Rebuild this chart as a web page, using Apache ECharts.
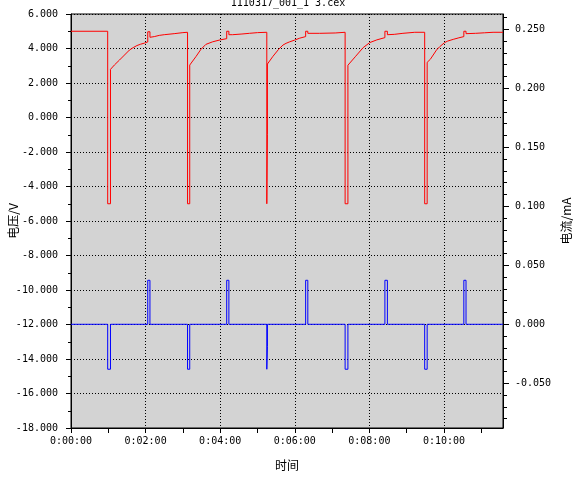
<!DOCTYPE html>
<html>
<head>
<meta charset="utf-8">
<script src="https://cdn.jsdelivr.net/npm/echarts@6/dist/echarts.min.js"></script>
<style>html,body{margin:0;padding:0;background:#fff}#c{width:576px;height:480px}</style>
</head>
<body>
<div id="c"></div>
<script>
// ---- data (time in seconds) ----
const titleText = '1110317_001_1 3.cex';
const voltTime = [0,59,59,63.5,63.5,70,78,86,94,100,106,112,118,123.5,
  123.5,127,127,134,142,150,166,180,187.5,
  187.5,191,191,201,209,217,228,240,250.5,
  250.5,254,254,260,275,287,300,315,
  315,316,316,325,334,341,346,352,360,368,377.5,
  377.5,381,381,400,425,441,
  441,445.5,445.5,458,470,480.5,492,505,
  505,509,509,520,534,553,569,
  569,573,573,578,588,593,601,606,615,624,632,
  632,635.5,635.5,651,665,679,695];
const voltValue = [5.00,5.00,-5.00,-5.00,2.79,3.05,3.33,3.62,3.91,4.05,4.17,4.25,4.31,4.38,
  4.97,4.97,4.65,4.69,4.76,4.80,4.86,4.92,4.94,
  -5.00,-5.00,3.04,3.53,3.95,4.24,4.39,4.50,4.57,
  5.00,5.00,4.80,4.80,4.84,4.88,4.92,4.94,
  -5.00,-1.00,3.10,3.55,3.95,4.20,4.30,4.39,4.49,4.60,4.69,
  5.00,5.00,4.88,4.88,4.90,4.94,
  -5.00,-5.00,3.03,3.55,4.05,4.34,4.50,4.63,
  5.00,5.00,4.80,4.82,4.88,4.94,4.94,
  -5.00,-5.00,3.20,3.37,3.91,4.10,4.34,4.43,4.53,4.62,4.69,
  5.00,5.00,4.86,4.88,4.91,4.94,4.94];
const currTime = [0,59,59,63.5,63.5,
  123.5,123.5,127,127,
  187.5,187.5,191,191,
  250.5,250.5,254,254,
  315,315,316,316,
  377.5,377.5,381,381,
  441,441,445.5,445.5,
  505,505,509,509,
  569,569,573,573,
  632,632,635.5,635.5,
  695];
const currValue = [0,0,-0.0381,-0.0381,0,
  0,0.0373,0.0373,0,
  0,-0.0381,-0.0381,0,
  0,0.0373,0.0373,0,
  0,-0.0381,-0.019,0,
  0,0.0373,0.0373,0,
  0,-0.0381,-0.0381,0,
  0,0.0373,0.0373,0,
  0,-0.0381,-0.0381,0,
  0,0.0373,0.0373,0,
  0];
const xLabelValues = [0,120,240,360,480,600];
const xTickValues = [0,60,120,180,240,300,360,420,480,540,600,660];
const rightLabelValues = [-0.05,0,0.05,0.10,0.15,0.20,0.25];
const rightMinorValues = [-0.08,-0.07,-0.06,-0.04,-0.03,-0.02,-0.01,0.01,0.02,0.03,0.04,0.06,0.07,0.08,0.09,0.11,0.12,0.13,0.14,0.16,0.17,0.18,0.19,0.21,0.22,0.23,0.24,0.26];

const voltData = voltTime.map((t,i)=>[t, voltValue[i]]);
const currData = currTime.map((t,i)=>[t, currValue[i]]);

const numFont = 'DejaVu Sans Mono';
const cjkFont = '"Noto Sans CJK SC"';
const black = '#000';
function fmtTime(v){
  const h = Math.floor(v/3600), m = Math.floor((v%3600)/60), s = Math.round(v%60);
  return h + ':' + String(m).padStart(2,'0') + ':' + String(s).padStart(2,'0');
}
const chart = echarts.init(document.getElementById('c'), null, {renderer:'canvas'});
chart.setOption({
  animation:false,
  backgroundColor:'#fff',
  title:{text:titleText, left:'center', top:-2, padding:0,
    textStyle:{fontFamily:numFont, fontSize:10, fontWeight:'normal', color:black}},
  grid:{left:71, right:73, top:14, bottom:52, containLabel:false, outerBoundsMode:'none',
    show:true, backgroundColor:'#d3d3d3', borderColor:black, borderWidth:1},
  xAxis:[
    {type:'value', min:0, max:695, interval:120, position:'bottom',
      name:'时间', nameLocation:'middle', nameGap:31, nameMoveOverlap:false,
      nameTextStyle:{fontFamily:cjkFont, fontSize:12, color:black},
      axisLine:{show:true, onZero:false, lineStyle:{color:black, width:1}},
      axisTick:{show:false, customValues:xLabelValues},
      axisLabel:{customValues:xLabelValues, formatter:fmtTime, fontFamily:numFont, fontSize:10, color:black, margin:8},
      splitLine:{show:true, lineStyle:{color:black, width:1, type:[1,2]}}
    },
    {type:'value', min:0, max:695, position:'bottom',
      axisLine:{show:false, onZero:false},
      axisTick:{show:true, length:5, customValues:xTickValues, lineStyle:{color:black}},
      axisLabel:{show:false},
      splitLine:{show:false}
    }
  ],
  yAxis:[
    {type:'value', position:'left', min:-18, max:6, interval:2,
      name:'电压/V', nameLocation:'middle', nameGap:52, nameMoveOverlap:false,
      nameTextStyle:{fontFamily:cjkFont, fontSize:12, color:black},
      axisLine:{show:true, onZero:false, lineStyle:{color:black}},
      axisTick:{show:true, length:5, lineStyle:{color:black}},
      minorTick:{show:true, splitNumber:2, length:3, lineStyle:{color:black}},
      axisLabel:{formatter:v=>v.toFixed(3), fontFamily:numFont, fontSize:10, color:black, margin:13},
      splitLine:{show:true, lineStyle:{color:black, width:1, type:[1,2]}}
    },
    {type:'value', position:'right', min:-0.0879, max:0.263,
      name:'电流/mA', nameLocation:'middle', nameGap:57, nameMoveOverlap:false,
      nameTextStyle:{fontFamily:cjkFont, fontSize:12, color:black},
      axisLine:{show:true, onZero:false, lineStyle:{color:black}},
      axisTick:{show:true, length:6, customValues:rightLabelValues, lineStyle:{color:black}},
      axisLabel:{customValues:rightLabelValues, formatter:v=>v.toFixed(3), fontFamily:numFont, fontSize:10, color:black, margin:12},
      splitLine:{show:false}
    },
    {type:'value', position:'right', min:-0.0879, max:0.263,
      axisLine:{show:false, onZero:false},
      axisTick:{show:true, length:4, customValues:rightMinorValues, lineStyle:{color:black}},
      axisLabel:{show:false},
      splitLine:{show:false}
    }
  ],
  series:[
    {type:'line', xAxisIndex:0, yAxisIndex:0, data:voltData, showSymbol:false, symbol:'none',
      lineStyle:{color:'#ff0000', width:1}, itemStyle:{color:'#ff0000'}},
    {type:'line', xAxisIndex:0, yAxisIndex:1, data:currData, showSymbol:false, symbol:'none',
      lineStyle:{color:'#0000ff', width:1}, itemStyle:{color:'#0000ff'}}
  ]
});
</script>
</body>
</html>
